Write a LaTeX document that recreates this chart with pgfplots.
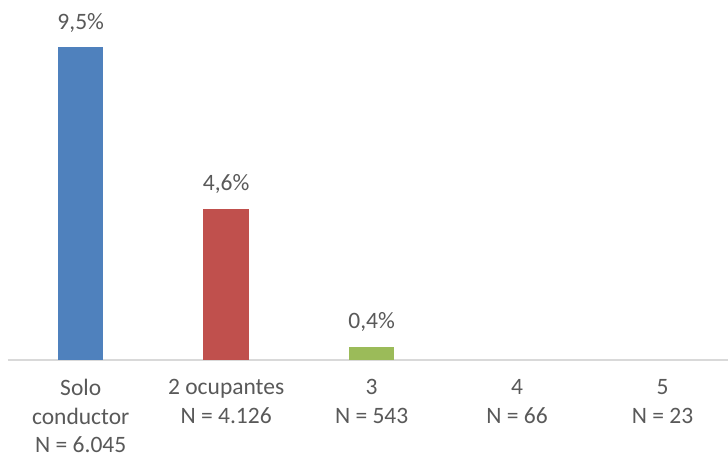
\documentclass[border=0pt]{standalone}
\usepackage{pgfplots}
\pgfplotsset{compat=1.18}
\usepackage{fontspec}
\setmainfont{Carlito}
\definecolor{cblue}{HTML}{4F81BD}
\definecolor{cred}{HTML}{C0504D}
\definecolor{cgreen}{HTML}{9BBB59}
\definecolor{ctext}{HTML}{595959}
\definecolor{caxis}{HTML}{D9D9D9}
\begin{document}
\begin{tikzpicture}
\useasboundingbox (0,0) rectangle (728pt,459pt);
\begin{axis}[
  at={(8pt,99pt)}, anchor=south west,
  scale only axis, width=720pt, height=329pt,
  xmin=-0.5, xmax=4.45, ymin=0, ymax=10,
  axis y line=none,
  axis x line*=bottom,
  x axis line style={draw=caxis, line width=1.5pt, -},
  xtick={0,1,2,3,4},
  xticklabels={{Solo\\conductor\\N = 6.045},{2 ocupantes\\N = 4.126},{3\\N = 543},{4\\N = 66},{5\\N = 23}},
  major tick length=0pt,
  xticklabel style={align=center, text=ctext, font=\fontsize{23.5}{28.5}\selectfont, anchor=north, yshift=-16pt},
  ybar, bar width=45.5pt, bar shift=0pt,
  clip=false,
  point meta=explicit symbolic,
  nodes near coords,
  every node near coord/.append style={text=ctext, font=\fontsize{23.5}{29}\selectfont, anchor=base, yshift=18pt, inner sep=0pt},
]
\addplot[fill=cblue, draw=none] coordinates {(0,9.5) [9,5\%]};
\addplot[fill=cred, draw=none] coordinates {(1,4.6) [4,6\%]};
\addplot[fill=cgreen, draw=none] coordinates {(2,0.4) [0,4\%]};
\end{axis}
\end{tikzpicture}
\end{document}
